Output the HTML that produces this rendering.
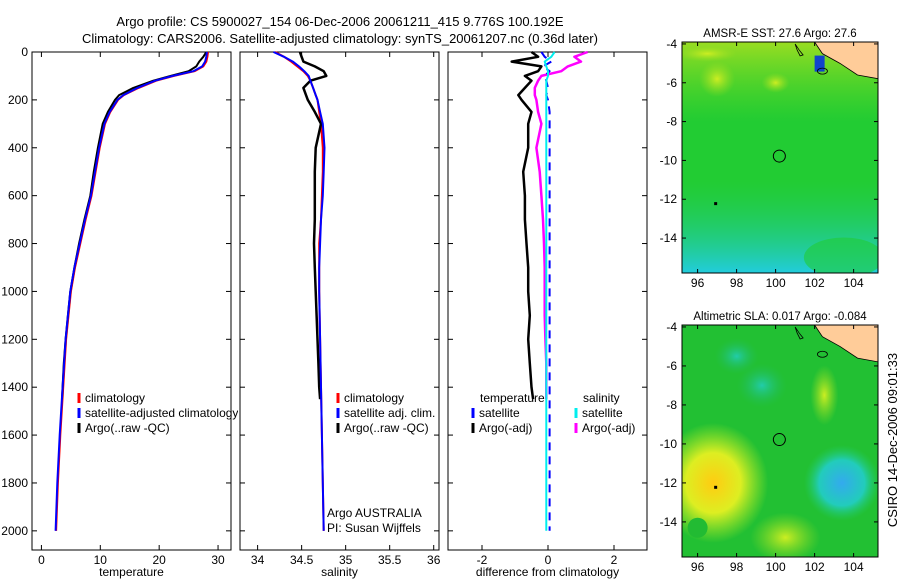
<!DOCTYPE html>
<html><head><meta charset="utf-8"><style>
body{margin:0;background:#fff;}
svg{display:block;font-family:"Liberation Sans",sans-serif;}
</style></head><body>
<svg id="c" width="900" height="580" viewBox="0 0 900 580">
<defs>
<radialGradient id="gBlue"><stop offset="0" stop-color="#33aaee"/><stop offset="0.6" stop-color="#22ccbb"/><stop offset="1" stop-color="#22cc66" stop-opacity="0"/></radialGradient>
<radialGradient id="gTeal"><stop offset="0" stop-color="#22ccaa"/><stop offset="1" stop-color="#22bb55" stop-opacity="0"/></radialGradient>
<radialGradient id="gYel"><stop offset="0" stop-color="#ffcc11"/><stop offset="0.5" stop-color="#ddee22"/><stop offset="1" stop-color="#bbee22" stop-opacity="0"/></radialGradient>
<radialGradient id="gYel2"><stop offset="0" stop-color="#ccee22"/><stop offset="1" stop-color="#99dd22" stop-opacity="0"/></radialGradient>
<linearGradient id="gSstBot" x1="0" y1="0" x2="0" y2="1"><stop offset="0" stop-color="#22cc66" stop-opacity="0"/><stop offset="1" stop-color="#22ccdd"/></linearGradient>
<linearGradient id="gSstTop" x1="0" y1="0" x2="0" y2="1"><stop offset="0" stop-color="#99dd22"/><stop offset="1" stop-color="#66d822" stop-opacity="0"/></linearGradient>
<clipPath id="cp1"><rect x="32" y="52" width="206" height="498"/></clipPath>
</defs>
<text x="340" y="26" font-size="13" text-anchor="middle">Argo profile: CS 5900027_154 06-Dec-2006 20061211_415 9.776S 100.192E</text>
<text x="340" y="43" font-size="13" text-anchor="middle">Climatology: CARS2006. Satellite-adjusted climatology: synTS_20061207.nc (0.36d later)</text>
<g id="plots"></g>
<text transform="translate(897,440) rotate(-90)" font-size="13" text-anchor="middle">CSIRO 14-Dec-2006 09:01:33</text>
</svg>
<script>
// ---- data ----
const depthT = [0,20,40,60,80,100,120,150,180,200,250,300,400,500,600,700,800,900,1000,1200,1400,1600,1800,2000];
const tempClim = [28.3,28.2,28.0,27.5,26.0,22.5,19.5,16.5,14.0,13.0,11.7,10.8,9.9,9.2,8.5,7.5,6.6,5.7,5.0,4.2,3.7,3.2,2.8,2.5];
const tempSat  = [28.1,28.0,27.8,27.3,25.8,22.3,19.3,16.3,13.9,12.9,11.6,10.7,9.8,9.1,8.4,7.4,6.5,5.6,4.9,4.1,3.6,3.1,2.7,2.4];
const depthA = [0,20,40,60,80,100,120,150,180,200,250,300,400,500,600,700,800,900,1000,1100,1200,1300,1400,1450];
const tempArgo = [28.0,27.5,26.8,26.3,25.0,22.0,19.0,15.6,13.2,12.5,11.3,10.4,9.6,8.9,8.3,7.3,6.4,5.6,4.9,4.5,4.1,3.8,3.6,3.5];
const salClim = [34.2,34.3,34.38,34.45,34.52,34.57,34.6,34.63,34.66,34.68,34.7,34.72,34.74,34.74,34.73,34.72,34.7,34.7,34.7,34.71,34.72,34.73,34.74,34.75];
const salSat  = [34.18,34.3,34.4,34.47,34.53,34.58,34.6,34.63,34.66,34.68,34.71,34.74,34.76,34.75,34.74,34.72,34.71,34.7,34.7,34.71,34.72,34.73,34.74,34.75];
const salArgo = [34.48,34.5,34.52,34.65,34.75,34.78,34.6,34.52,34.55,34.57,34.65,34.72,34.66,34.65,34.65,34.65,34.64,34.65,34.66,34.67,34.68,34.69,34.7,34.71];
const dTempSat  = [-0.2,-0.1,0.1,-0.15,0.05,-0.1,-0.05,0,-0.05,0,0.05,0.05,0.05,0.05,0.05,0.05,0.05,0.05,0.05,0.05,0.05,0.05,0.05,0.05];
const dTempArgo = [-0.5,-0.3,-1.1,-0.2,-0.3,-0.7,-0.5,-0.7,-0.9,-0.8,-0.5,-0.6,-0.6,-0.75,-0.7,-0.7,-0.65,-0.6,-0.6,-0.55,-0.6,-0.55,-0.5,-0.45];
const dSalSat   = [0.2,0.1,-0.1,-0.05,0,0,-0.05,-0.05,-0.05,-0.05,-0.05,-0.05,-0.05,-0.05,-0.05,-0.05,-0.05,-0.05,-0.05,-0.05,-0.05,-0.05,-0.05,-0.05];
const dSalArgo  = [1.2,0.8,1.0,0.6,0.4,-0.2,-0.3,-0.4,-0.4,-0.35,-0.3,-0.2,-0.35,-0.25,-0.2,-0.15,-0.12,-0.1,-0.1,-0.1,-0.08,-0.05,-0.05,-0.05];
const depthTicks = [0,200,400,600,800,1000,1200,1400,1600,1800,2000];
const tTicks=[0,10,20,30], sTicks=[34,34.5,35,35.5,36], dTicks=[-2,0,2];
const lonTicks=[96,98,100,102,104], latTicks=[-4,-6,-8,-10,-12,-14];

const NS='http://www.w3.org/2000/svg';
const root=document.getElementById('plots');
function mk(tag,at,parent){const e=document.createElementNS(NS,tag);for(const k in at)e.setAttribute(k,at[k]);(parent||root).appendChild(e);return e;}
function lin(d0,d1,r0,r1){return v=>r0+(v-d0)*(r1-r0)/(d1-d0);}
const yD=lin(0,2080,52,550);

function panel(name,x0,x1,xd0,xd1,xt,xlabel,showY){
  const g=mk('g',{});
  
  
  const xs=lin(xd0,xd1,x0,x1);
  mk('rect',{x:x0,y:52,width:x1-x0,height:498,fill:'#fff',stroke:'#000','stroke-width':1},g);
  xt.forEach(t=>{const x=xs(t);
    mk('line',{x1:x,x2:x,y1:550,y2:545,stroke:'#000'},g);
    mk('line',{x1:x,x2:x,y1:52,y2:57,stroke:'#000'},g);
    const tx=mk('text',{x:x,y:564,'font-size':12,'text-anchor':'middle'},g);tx.textContent=t;
    });
  depthTicks.forEach(t=>{const y=yD(t);
    mk('line',{x1:x0,x2:x0+5,y1:y,y2:y,stroke:'#000'},g);
    mk('line',{x1:x1,x2:x1-5,y1:y,y2:y,stroke:'#000'},g);
    if(showY){const tx=mk('text',{x:x0-4,y:y+4,'font-size':12,'text-anchor':'end'},g);tx.textContent=t;
      }});
  const lb=mk('text',{x:(x0+x1)/2,y:576,'font-size':12,'text-anchor':'middle'},g);lb.textContent=xlabel;
  
  return {g,xs};
}
function line(p,depths,vals,color,w,nm,dash){
  const d=depths.map((z,i)=>(i?'L':'M')+p.xs(vals[i]).toFixed(1)+','+yD(z).toFixed(1)).join('');
  const e=mk('path',{d:d,fill:'none',stroke:color,'stroke-width':w,'stroke-linejoin':'round'},p.g);
  if(dash)e.setAttribute('stroke-dasharray',dash);
  
}
function leg(g,x,y,color,label){
  mk('line',{x1:x,x2:x,y1:y-9,y2:y+1,stroke:color,'stroke-width':3},g);
  const t=mk('text',{x:x+6,y:y,'font-size':12},g);t.textContent=label;
  
}
// panel 1
const p1=panel('temperature-panel',32,231,-1.6,32.2,tTicks,'temperature',true);
line(p1,depthT,tempClim,'#f00',2,'temp-climatology-line');
line(p1,depthA,tempArgo,'#000',2,'temp-argo-line');
line(p1,depthT,tempSat,'#00f',2,'temp-satellite-line');
const lg1=mk('g',{'clip-path':'url(#cp1)'});
leg(lg1,79,402,'#f00','climatology');leg(lg1,79,417,'#00f','satellite-adjusted climatology');leg(lg1,79,432,'#000','Argo(..raw -QC)');
// panel 2
const p2=panel('salinity-panel',240,439,33.8,36.06,sTicks,'salinity',false);
line(p2,depthT,salClim,'#f00',2,'sal-climatology-line');
line(p2,depthA,salArgo,'#000',2.5,'sal-argo-line');
line(p2,depthT,salSat,'#00f',2,'sal-satellite-line');
leg(p2.g,338,402,'#f00','climatology');leg(p2.g,338,417,'#00f','satellite adj. clim.');leg(p2.g,338,432,'#000','Argo(..raw -QC)');
[['Argo AUSTRALIA',517],['PI: Susan Wijffels',532]].forEach(a=>{const t=mk('text',{x:327,y:a[1],'font-size':12},p2.g);t.textContent=a[0];
  });
// panel 3
const p3=panel('difference-panel',448,647,-3.03,3.0,dTicks,'difference from climatology',false);
line(p3,depthA,dTempArgo,'#000',2.5,'dtemp-argo-line');
line(p3,depthA,dSalArgo,'#f0f',2.5,'dsal-argo-line');
line(p3,depthT,dTempSat,'#00f',2,'dtemp-satellite-line','8,6');
line(p3,depthT,dSalSat,'#0ee',2,'dsal-satellite-line');
[['temperature',480],['salinity',583]].forEach(a=>{const t=mk('text',{x:a[1],y:402,'font-size':12},p3.g);t.textContent=a[0];
  });
leg(p3.g,473,417,'#00f','satellite');leg(p3.g,473,432,'#000','Argo(-adj)');
leg(p3.g,576,417,'#0ee','satellite');leg(p3.g,576,432,'#f0f','Argo(-adj)');

// maps
function map(name,top,bot,title,kind){
  const g=mk('g',{});
  const xs=lin(95.2,105.25,682,878), ys=lin(-3.9,-15.8,top,bot);
  const cid='clip'+kind;
  const cp=mk('clipPath',{id:cid},g);mk('rect',{x:682,y:top,width:196,height:bot-top},cp);
  const c=mk('g',{'clip-path':'url(#'+cid+')'},g);
  mk('rect',{x:682,y:top,width:196,height:bot-top,fill:kind==='sst'?'#22cc33':'#22c033'},c);
  if(kind==='sst'){
    mk('rect',{x:682,y:top,width:196,height:ys(-8)-top,fill:'url(#gSstTop)'},c);
    mk('rect',{x:682,y:ys(-11),width:196,height:bot-ys(-11),fill:'url(#gSstBot)'},c);
    mk('ellipse',{cx:xs(97),cy:ys(-5.8),rx:18,ry:18,fill:'url(#gYel2)'},c);
    mk('ellipse',{cx:xs(100),cy:ys(-6),rx:14,ry:10,fill:'url(#gYel2)'},c);
    mk('ellipse',{cx:xs(96.5),cy:ys(-4.5),rx:30,ry:8,fill:'url(#gYel2)'},c);
    mk('rect',{x:xs(102),y:ys(-4.6),width:10,height:16,fill:'#1144cc'},c);
    mk('ellipse',{cx:xs(103.5),cy:ys(-15),rx:40,ry:20,fill:'#22cc33',opacity:0.6},c);
  } else {
    mk('ellipse',{cx:xs(96.8),cy:ys(-12),rx:55,ry:60,fill:'url(#gYel)'},c);
    mk('ellipse',{cx:xs(100.5),cy:ys(-14.8),rx:35,ry:25,fill:'url(#gYel2)'},c);
    mk('ellipse',{cx:xs(102.5),cy:ys(-7.5),rx:14,ry:30,fill:'url(#gYel2)'},c);
    mk('ellipse',{cx:xs(103.4),cy:ys(-12),rx:38,ry:38,fill:'url(#gBlue)'},c);
    mk('ellipse',{cx:xs(99.3),cy:ys(-7),rx:25,ry:22,fill:'url(#gTeal)'},c);
    mk('ellipse',{cx:xs(98),cy:ys(-5.5),rx:22,ry:18,fill:'url(#gTeal)'},c);
    mk('ellipse',{cx:xs(96),cy:ys(-14.3),rx:10,ry:10,fill:'#22bb33'},c);
  }
  const land=mk('path',{d:'M'+xs(102)+','+top+'L'+xs(102.4)+','+ys(-4.5)+'L'+xs(103.3)+','+ys(-5)+'L'+xs(104.2)+','+ys(-5.6)+'L'+xs(105.3)+','+ys(-5.8)+'L'+878+','+top+'Z',fill:'#ffcc99',stroke:'#000','stroke-width':0.8},c);
  
  mk('path',{d:'M'+xs(101)+','+ys(-4)+'l4,6l4,5l-3,1l-3,-6z',fill:'none',stroke:'#000','stroke-width':0.8},c);
  mk('ellipse',{cx:xs(102.4),cy:ys(-5.4),rx:5,ry:3,fill:'none',stroke:'#000','stroke-width':0.8},c);
  const m=mk('circle',{cx:xs(100.192),cy:ys(-9.776),r:6,fill:'none',stroke:'#000','stroke-width':1},c);
  
  mk('rect',{x:xs(96.9)-1,y:ys(-12.2)-1,width:3,height:3,fill:'#000'},c);
  mk('rect',{x:682,y:top,width:196,height:bot-top,fill:'none',stroke:'#000'},g);
  lonTicks.forEach(t=>{const x=xs(t);mk('line',{x1:x,x2:x,y1:bot,y2:bot-4,stroke:'#000'},g);mk('line',{x1:x,x2:x,y1:top,y2:top+4,stroke:'#000'},g);
    const tx=mk('text',{x:x,y:bot+14,'font-size':12,'text-anchor':'middle'},g);tx.textContent=t;
    });
  latTicks.forEach(t=>{const y=ys(t);mk('line',{x1:682,x2:686,y1:y,y2:y,stroke:'#000'},g);mk('line',{x1:878,x2:874,y1:y,y2:y,stroke:'#000'},g);
    const tx=mk('text',{x:677,y:y+4,'font-size':12,'text-anchor':'end'},g);tx.textContent=t;
    });
  const tt=mk('text',{x:780,y:top-5,'font-size':11.5,'text-anchor':'middle'},g);tt.textContent=title;
  
}
map('sst-map',42,273,'AMSR-E SST: 27.6 Argo: 27.6','sst');
map('sla-map',325,557,'Altimetric SLA: 0.017 Argo: -0.084','sla');
</script>
</body></html>
